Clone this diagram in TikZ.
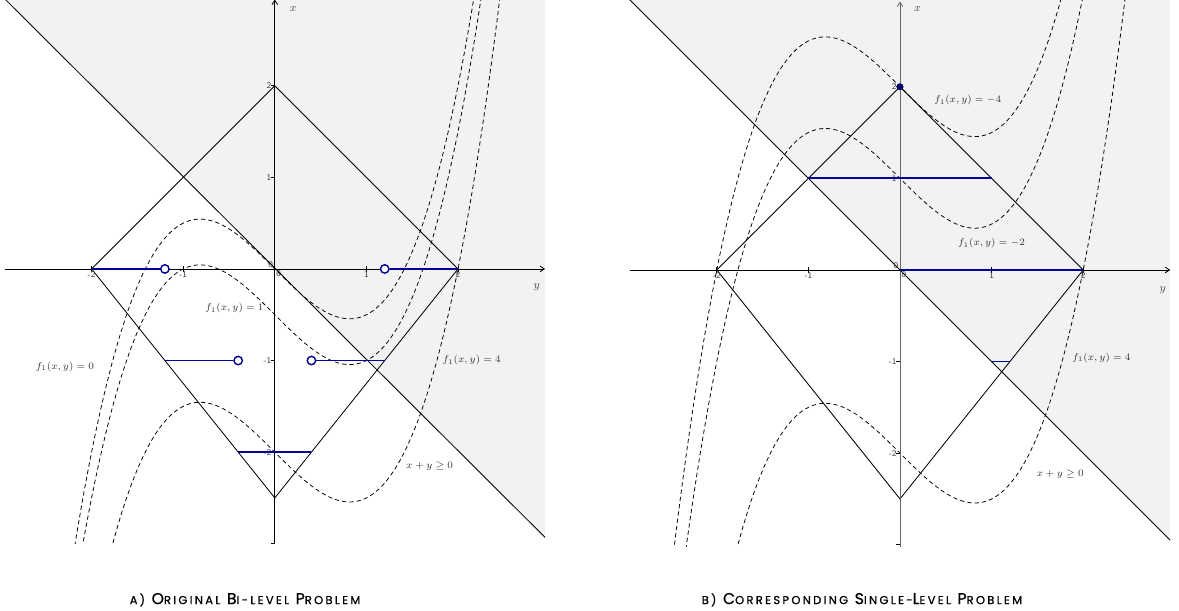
\documentclass[tikz,border=0pt]{standalone}
\usepackage{fontspec}
\usepackage{tikz}
\usetikzlibrary{arrows.meta}

\newfontfamily\capfont{Poppins}[LetterSpace=20, FakeBold=0.8]
\definecolor{solblue}{RGB}{0,0,150}
\definecolor{region}{RGB}{242,242,242}
\definecolor{ticktext}{RGB}{60,60,60}

% fake small caps for the two captions
\newcommand{\capL}[1]{{\fontsize{11.2}{12}\selectfont #1}}
\newcommand{\capS}[1]{{\fontsize{8.2}{9}\selectfont #1}}

\begin{document}
\begin{tikzpicture}[
    x=2.29cm, y=2.29cm,
    edge/.style={line width=0.6pt},
    level/.style={dash pattern=on 3pt off 2.2pt, line width=0.55pt},
    axis/.style={line width=0.6pt, -{Straight Barb[length=3pt, width=4pt]}},
    sol/.style={draw=solblue, line width=1.35pt},
    hole/.style={circle, draw=solblue, fill=white, line width=1pt, minimum size=6pt, inner sep=0pt},
    dot/.style={circle, fill=solblue!70!black, minimum size=5pt, inner sep=0pt},
    tick/.style={font=\sffamily\fontsize{6.2}{7}\selectfont, text=ticktext, inner sep=1pt},
    curvelabel/.style={font=\fontsize{7.3}{8}\selectfont, text=black!80},
    axislabel/.style={font=\footnotesize, text=black!70},
    caption/.style={font=\capfont, inner sep=0pt, anchor=base}
]
\useasboundingbox (0,0) rectangle (12.871,6.670);

% ---------- a) original bi-level problem ----------
\begin{scope}[shift={(3.0,3.734)}]
  \begin{scope}
    \clip (-2.95,-3.0) rectangle (2.95,2.94);
    % half plane x+y >= 0
    \fill[region] (-2.95,2.95) -- (2.95,2.95) -- (2.95,-2.95) -- cycle;
    % level curves of f1
    \foreach \c in {0,-0.5,-2}
      \draw[level] plot[domain=-2.6:2.6, samples=150, smooth] (\x, {0.5*\x*\x*\x-\x+\c});
  \end{scope}

  % feasible region
  \coordinate (L-w) at (-2,0);
  \coordinate (L-n) at (0,2);
  \coordinate (L-e) at (2,0);
  \coordinate (L-s) at (0,-2.5);
  \draw[edge] (L-w) -- (L-n) -- (L-e) -- (L-s) -- cycle;

  % constraint line
  \coordinate (L-c1) at (-2.95,2.95);
  \coordinate (L-c2) at (2.95,-2.93);
  \draw[edge] (L-c1) -- (L-c2);

  % axes
  \coordinate (L-xl) at (-2.95,0);
  \coordinate (L-xr) at (2.95,0);
  \coordinate (L-yb) at (0,-3.0);
  \coordinate (L-yt) at (0,2.94);
  \draw[axis] (L-xl) -- (L-xr);
  \draw[axis] (L-yb) -- (L-yt);
  \foreach \t in {-2,-1,1,2} {
    \draw[edge] (\t,-0.03) -- (\t,0.03);
    \node[tick, below] (L-th\t) at (\t,-0.015) {\t};
  }
  \foreach \t in {-3,-2,-1,1,2} \draw[edge] (-0.04,\t) -- (0,\t);
  \foreach \t in {-2,-1,1,2}
    \node[tick, left] (L-tv\t) at (-0.02,\t) {\t};
  \node[tick, above left] (L-o1) at (0,0) {0};
  \node[tick, below right] (L-o2) at (0,0) {0};
  \node[axislabel] (L-x) at (0.2,2.84) {$x$};
  \node[axislabel] (L-y) at (2.86,-0.2) {$y$};

  % bi-level solutions
  \node[hole] (L-h1) at (-1.2,0) {};
  \node[hole] (L-h2) at (1.2,0) {};
  \node[hole] (L-h3) at (-0.4,-1) {};
  \node[hole] (L-h4) at (0.4,-1) {};
  \coordinate (L-a) at (-1.2,-1);
  \coordinate (L-b) at (1.2,-1);
  \coordinate (L-c) at (-0.4,-2);
  \coordinate (L-d) at (0.4,-2);
  \draw[sol] (L-w) -- (L-h1);
  \draw[sol] (L-h2) -- (L-e);
  \draw[sol] (L-a) -- (L-h3);
  \draw[sol] (L-h4) -- (L-b);
  \draw[sol] (L-c) -- (L-d);

  % labels
  \node[curvelabel] (L-f1) at (-0.44,-0.43) {$f_1(x,y)=1$};
  \node[curvelabel] (L-f0) at (-2.29,-1.07) {$f_1(x,y)=0$};
  \node[curvelabel] (L-f4) at (2.15,-1.0) {$f_1(x,y)=4$};
  \node[curvelabel] (L-cs) at (1.69,-2.15) {$x+y\geq 0$};
\end{scope}

% ---------- b) corresponding single-level problem ----------
\begin{scope}[shift={(9.825,3.723)}]
  \begin{scope}
    \clip (-2.95,-3.02) rectangle (2.95,2.95);
    % half plane x+y >= 0
    \fill[region] (-2.95,2.95) -- (2.95,2.95) -- (2.95,-2.95) -- cycle;
    % level curves of f1
    \foreach \c in {2,1,-2}
      \draw[level] plot[domain=-2.6:2.6, samples=150, smooth] (\x, {0.5*\x*\x*\x-\x+\c});
  \end{scope}

  % feasible region
  \coordinate (R-w) at (-2,0);
  \coordinate (R-n) at (0,2);
  \coordinate (R-e) at (2,0);
  \coordinate (R-s) at (0,-2.5);
  \draw[edge] (R-w) -- (R-n) -- (R-e) -- (R-s) -- cycle;

  % constraint line
  \coordinate (R-c1) at (-2.95,2.95);
  \coordinate (R-c2) at (2.95,-2.95);
  \draw[edge] (R-c1) -- (R-c2);

  % axes
  \coordinate (R-xl) at (-2.95,0);
  \coordinate (R-xr) at (2.95,0);
  \coordinate (R-yb) at (0,-3.02);
  \coordinate (R-yt) at (0,2.93);
  \draw[axis] (R-xl) -- (R-xr);
  \draw[axis, draw=black!60] (R-yb) -- (R-yt);
  \foreach \t in {-2,-1,1,2} {
    \draw[edge] (\t,-0.03) -- (\t,0.03);
    \node[tick, below] (R-th\t) at (\t,-0.015) {\t};
  }
  \foreach \t in {-3,-2,-1,1,2} \draw[edge] (-0.04,\t) -- (0,\t);
  \foreach \t in {-2,-1,1,2}
    \node[tick, left] (R-tv\t) at (-0.02,\t) {\t};
  \node[tick, above left] (R-o1) at (0,0) {0};
  \node[tick, below right] (R-o2) at (0,0) {0};
  \node[axislabel] (R-x) at (0.19,2.85) {$x$};
  \node[axislabel] (R-y) at (2.87,-0.22) {$y$};

  % single-level solutions
  \coordinate (R-o) at (0,0);
  \coordinate (R-p) at (-1,1);
  \coordinate (R-q) at (1,1);
  \coordinate (R-r) at (1,-1);
  \coordinate (R-t) at (1.2,-1);
  \draw[sol] (R-o) -- (R-e);
  \draw[sol] (R-p) -- (R-q);
  \draw[sol] (R-r) -- (R-t);
  \node[dot] (R-top) at (R-n) {};

  % labels
  \node[curvelabel] (R-fm4) at (0.74,1.85) {$f_1(x,y)=-4$};
  \node[curvelabel] (R-fm2) at (1.0,0.29) {$f_1(x,y)=-2$};
  \node[curvelabel] (R-f4) at (2.2,-0.96) {$f_1(x,y)=4$};
  \node[curvelabel] (R-cs) at (1.75,-2.23) {$x+y\geq 0$};
\end{scope}

% captions
\node[caption] (cap-a) at (2.675,0.075)
  {\capS{A)} \capL{O}\capS{RIGINAL} \capL{B}\capS{I-LEVEL} \capL{P}\capS{ROBLEM}};
\node[caption] (cap-b) at (9.41,0.075)
  {\capS{B)} \capL{C}\capS{ORRESPONDING} \capL{S}\capS{INGLE-}\capL{L}\capS{EVEL} \capL{P}\capS{ROBLEM}};

\end{tikzpicture}
\end{document}
